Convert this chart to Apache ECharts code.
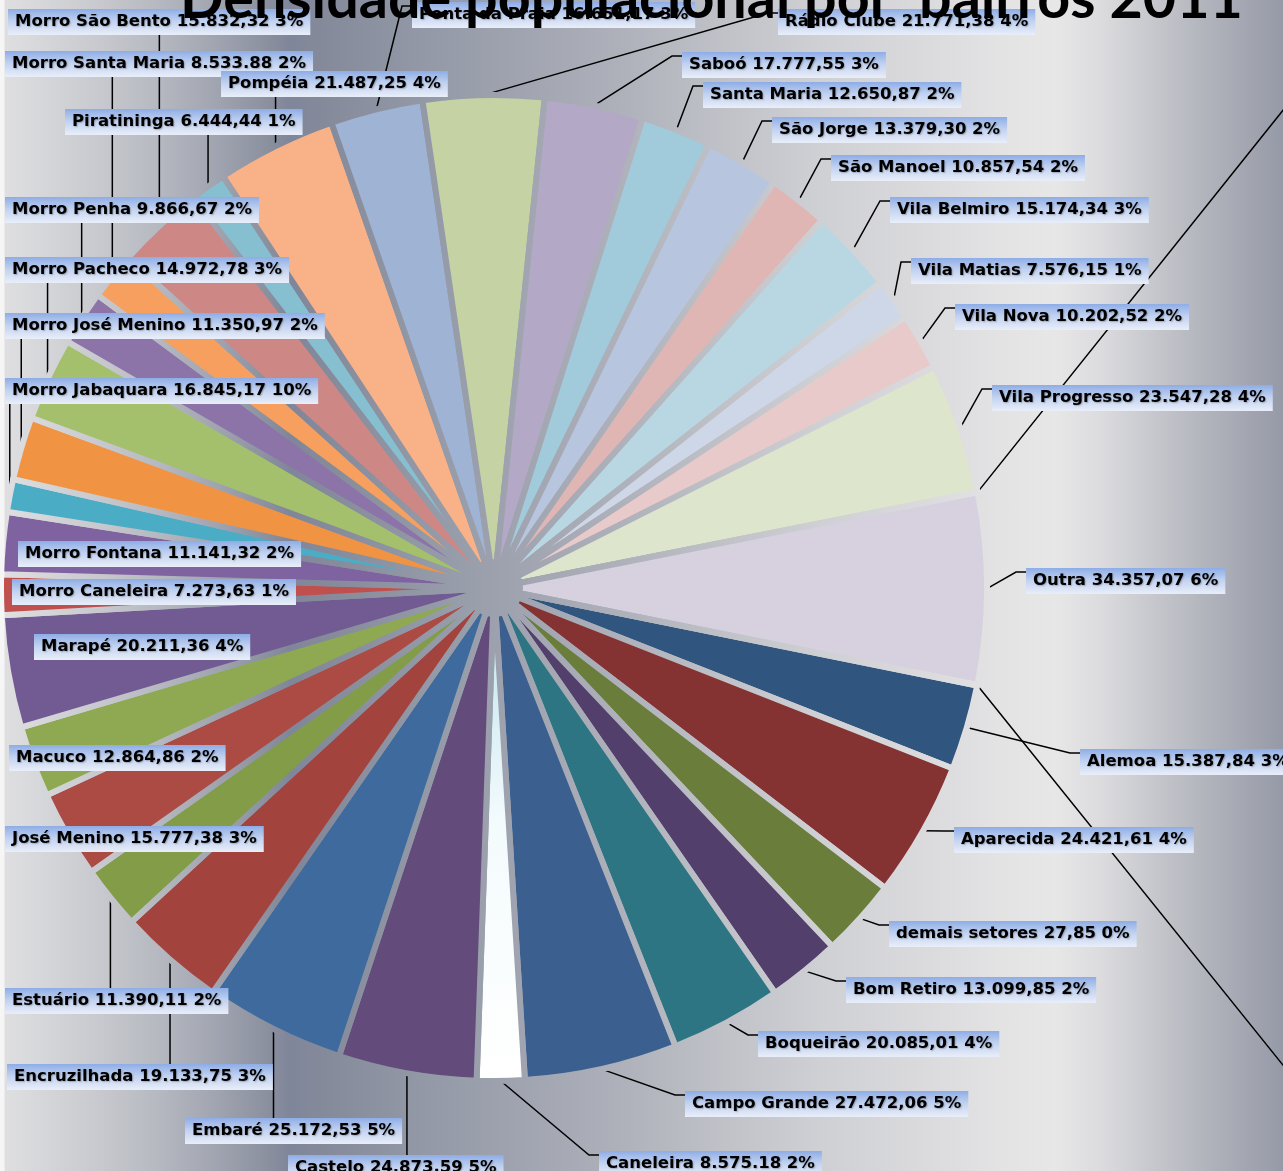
<!DOCTYPE html>
<html>
<head>
<meta charset="utf-8">
<script src="https://cdn.jsdelivr.net/npm/echarts@6/dist/echarts.min.js"></script>
<style>
  html, body { margin: 0; padding: 0; }
  #chart { width: 1283px; height: 1171px; position: relative; }
</style>
</head>
<body>
<div id="chart"></div>
<script>
// ---------------- DATA ----------------
const bairros = ['Alemoa','Aparecida','demais setores','Bom Retiro','Boqueirão','Campo Grande','Caneleira','Castelo','Embaré','Encruzilhada','Estuário','José Menino','Macuco','Marapé','Morro Caneleira','Morro Fontana','Morro Jabaquara','Morro José Menino','Morro Pacheco','Morro Penha','Morro Santa Maria','Morro São Bento','Piratininga','Pompéia','Ponta da Praia','Rádio Clube','Saboó','Santa Maria','São Jorge','São Manoel','Vila Belmiro','Vila Matias','Vila Nova','Vila Progresso','','Outra',''];
// slice sizes
const valores = [15387.84,24421.61,14000,13099.85,20085.01,27472.06,8575.18,24873.59,25172.53,19133.75,11390.11,15777.38,12864.86,20211.36,7273.63,11141.32,5900,11350.97,14972.78,9866.67,8533.88,15832.32,6444.44,21487.25,16651.17,21771.38,17777.55,12650.87,13379.30,10857.54,15174.34,7576.15,10202.52,23547.28,100,34357.07,100];
// label texts exactly as printed in the picture
const rotuloValor = ['15.387,84','24.421,61','27,85','13.099,85','20.085,01','27.472,06','8.575.18','24.873,59','25.172,53','19.133,75','11.390,11','15.777,38','12.864,86','20.211,36','7.273,63','11.141,32','16.845,17','11.350,97','14.972,78','9.866,67','8.533.88','15.832,32','6.444,44','21.487,25','16.651,17','21.771,38','17.777,55','12.650,87','13.379,30','10.857,54','15.174,34','7.576,15','10.202,52','23.547,28','','34.357,07',''];
const rotuloPct = ['3%','4%','0%','2%','4%','5%','2%','5%','5%','3%','2%','3%','2%','4%','1%','2%','10%','2%','3%','2%','2%','3%','1%','4%','3%','4%','3%','2%','2%','2%','3%','1%','2%','4%','','6%',''];
const titulo = 'Densidade populacional por  bairros 2011';

// ---------------- STYLE / LAYOUT ----------------
const cores = ['#30557f','#843232','#6a7d3b','#523f6c','#2e7583','#3b5f8f','#ffffff','#634b7b','#3e6a9d','#a3433e','#829c48','#ac4a44','#8fa852','#725a92','#c0504d','#7f62a0','#4bacc6','#f09444','#a4c06c','#8c74a8','#f69f5f','#cd8785','#86bfd0','#f9b187','#9fb3d5','#c4d2a4','#b3a8c5','#a1cadb','#b8c5de','#e0b6b5','#b8d7e2','#ced7e7','#e8cacb','#dde5cc','#cccccc','#d6d0df','#cccccc'];
// label box top-left + leader style
const posRotulo = [
 [1080,749,'L'],[954,827,'L'],[889,921,'L'],[846,977,'L'],[758,1031,'L'],[685,1091,'L'],[599,1151,'L'],
 [288,1155,'T'],[185,1118,'T'],[7,1064,'T'],[5,988,'T'],
 [5,826,'N'],[9,745,'N'],[34,634,'N'],[12,579,'N'],[18,541,'N'],
 [5,378,'B'],[5,313,'B'],[5,257,'B'],[5,197,'B'],[5,51,'B'],[8,9,'B'],[65,109,'B'],[221,71,'B'],
 [412,2,'L'],[778,9,'L'],[682,52,'L'],[703,82,'L'],[772,117,'L'],[831,155,'L'],[890,197,'L'],[911,258,'L'],[955,304,'L'],[992,385,'L'],
 [1400,30,'O',1340,39],[1026,568,'L'],[1400,1130,'O',1340,1136]
];

const W = 1283;
const bgStops = [[0,'#f6f6f6'],[4,'#f6f6f6'],[5,'#dfdfe1'],[40,'#d6d7da'],[100,'#c8c9ce'],[160,'#b5b8c0'],[220,'#9fa3af'],[270,'#8a8f9e'],[290,'#80869a'],[330,'#868b9b'],[420,'#9298a6'],[520,'#a0a4b0'],[620,'#aeb1ba'],[720,'#bfc1c7'],[820,'#cfd0d4'],[920,'#dadadd'],[1000,'#e3e3e4'],[1055,'#e7e7e7'],[1100,'#dcdcdf'],[1150,'#c8c9ce'],[1200,'#b4b6be'],[1250,'#a2a5b0'],[1283,'#959aa7']];
document.getElementById('chart').style.background =
  'linear-gradient(to right,' + bgStops.map(s => s[1] + ' ' + s[0] + 'px').join(',') + ')';
const bgGrad = new echarts.graphic.LinearGradient(0, 0, W, 0,
  bgStops.map(s => ({ offset: s[0] / W, color: s[1] })), true);

const labelBg = new echarts.graphic.LinearGradient(0, 0, 0, 1, [
  { offset: 0, color: '#8eade6' }, { offset: 0.45, color: '#c0d1f0' }, { offset: 1, color: '#e9eef9' }]);
const caneleiraFill = new echarts.graphic.LinearGradient(0, 0, 0, 1, [
  { offset: 0, color: '#bfe4ee' }, { offset: 0.45, color: '#f4fbfd' }, { offset: 1, color: '#ffffff' }]);

// title font size fitted to reference width
const ctx = document.createElement('canvas').getContext('2d');
ctx.font = 'bold 100px Lato';
const titleSize = 100 * 1063 / ctx.measureText(titulo).width;

const dados = bairros.map((n, i) => {
  const d = { name: n, value: valores[i], itemStyle: { color: i === 6 ? caneleiraFill : cores[i] } };
  if (posRotulo[i][2] === 'N') d.labelLine = { show: false };
  if (posRotulo[i][2] === 'O') d.label = { backgroundColor: 'transparent' };
  return d;
});

const chart = echarts.init(document.getElementById('chart'), null, { renderer: 'canvas' });
chart.setOption({
  backgroundColor: 'transparent',
  animation: false,
  title: {
    text: titulo, left: 180, top: -29, padding: 0,
    textStyle: { fontFamily: 'Lato', fontWeight: 'bold', fontSize: titleSize, lineHeight: titleSize, color: '#000' }
  },
  series: [{
    type: 'pie',
    silent: true,
    center: [494, 588],
    radius: [26, 493],
    startAngle: -11.4,
    clockwise: true,
    avoidLabelOverlap: false,
    itemStyle: { borderColor: bgGrad, borderWidth: 6, borderJoin: 'round' },
    label: {
      show: true, position: 'outside',
      formatter: p => bairros[p.dataIndex] === '' ? ' ' : (bairros[p.dataIndex] + ' ' + rotuloValor[p.dataIndex] + ' ' + rotuloPct[p.dataIndex]),
      fontFamily: 'DejaVu Sans', fontWeight: 'bold', fontSize: 16.5, lineHeight: 18, color: '#000',
      textShadowColor: 'rgba(0,0,0,0.25)', textShadowBlur: 1.5, textShadowOffsetX: 1, textShadowOffsetY: 1,
      backgroundColor: labelBg, padding: [4, 7, 4, 7]
    },
    labelLine: { show: true, length: 10, length2: 10, lineStyle: { color: '#000', width: 1.5 } },
    labelLayout: function (p) {
      const i = p.dataIndex;
      const pr = posRotulo[i];
      const x = pr[0], y = pr[1], mode = pr[2];
      const h = p.labelRect.height;
      const a = p.labelLinePoints ? p.labelLinePoints[0] : [494, 588];
      let pts;
      if (mode === 'L') pts = [a, [x - 10, y + 4], [x, y + 4]];
      else if (mode === 'B') pts = [a, [a[0], y + h + 1], [a[0], y + h]];
      else if (mode === 'T') pts = [a, [a[0], y - 1], [a[0], y]];
      else if (mode === 'O') pts = [a, [pr[3], pr[4]], [pr[3] + 10, pr[4]]];
      else pts = [a, a, a];
      return { x: x, y: y, align: 'left', verticalAlign: 'top', labelLinePoints: pts };
    },
    data: dados
  }]
});
</script>
</body>
</html>
